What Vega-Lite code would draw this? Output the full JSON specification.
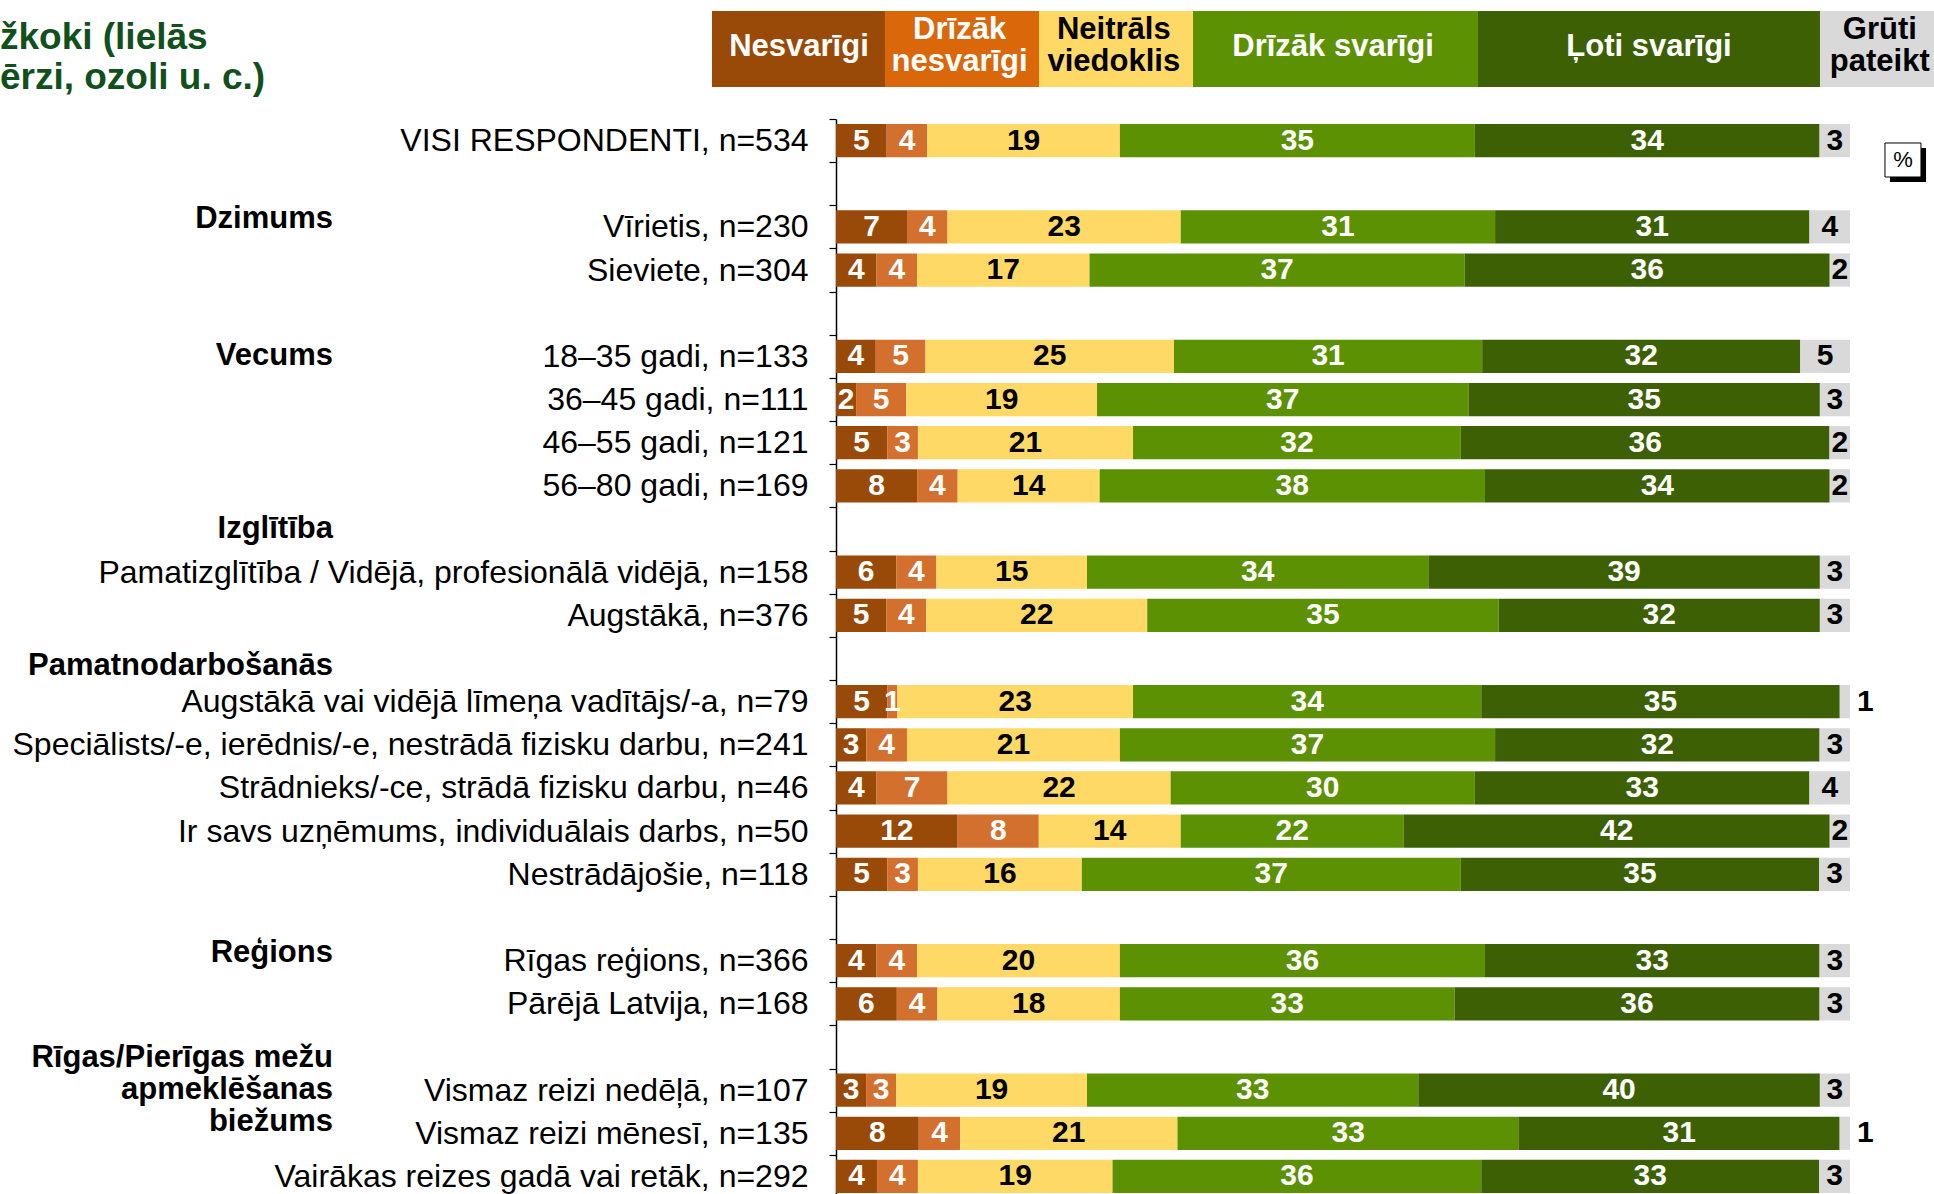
{
  "$schema": "https://vega.github.io/schema/vega-lite/v6.json",
  "width": 1014,
  "height": 1079,
  "autosize": {"type": "none"},
  "padding": {"left": 836, "top": 119, "right": 84, "bottom": 0},
  "background": "white",
  "config": {
    "view": {"stroke": null},
    "font": "Liberation Sans",
    "axis": {
      "domainColor": "black", "domainWidth": 1.5, "tickColor": "black", "tickSize": 7, "tickWidth": 1.2,
      "tickBand": "extent", "labelFont": "Liberation Sans", "labelFontSize": 32, "labelColor": "black",
      "labelPadding": 21, "labelLimit": 1200, "title": null, "grid": false
    }
  },
  "datasets": {
    "rows": [
      {"r": "VISI RESPONDENTI, n=534", "Nesvarīgi": 5, "Drīzāk nesvarīgi": 4, "Neitrāls viedoklis": 19, "Drīzāk svarīgi": 35, "Ļoti svarīgi": 34, "Grūti pateikt": 3},
      {"r": "Vīrietis, n=230", "Nesvarīgi": 7, "Drīzāk nesvarīgi": 4, "Neitrāls viedoklis": 23, "Drīzāk svarīgi": 31, "Ļoti svarīgi": 31, "Grūti pateikt": 4},
      {"r": "Sieviete, n=304", "Nesvarīgi": 4, "Drīzāk nesvarīgi": 4, "Neitrāls viedoklis": 17, "Drīzāk svarīgi": 37, "Ļoti svarīgi": 36, "Grūti pateikt": 2},
      {"r": "18–35 gadi, n=133", "Nesvarīgi": 4, "Drīzāk nesvarīgi": 5, "Neitrāls viedoklis": 25, "Drīzāk svarīgi": 31, "Ļoti svarīgi": 32, "Grūti pateikt": 5},
      {"r": "36–45 gadi, n=111", "Nesvarīgi": 2, "Drīzāk nesvarīgi": 5, "Neitrāls viedoklis": 19, "Drīzāk svarīgi": 37, "Ļoti svarīgi": 35, "Grūti pateikt": 3},
      {"r": "46–55 gadi, n=121", "Nesvarīgi": 5, "Drīzāk nesvarīgi": 3, "Neitrāls viedoklis": 21, "Drīzāk svarīgi": 32, "Ļoti svarīgi": 36, "Grūti pateikt": 2},
      {"r": "56–80 gadi, n=169", "Nesvarīgi": 8, "Drīzāk nesvarīgi": 4, "Neitrāls viedoklis": 14, "Drīzāk svarīgi": 38, "Ļoti svarīgi": 34, "Grūti pateikt": 2},
      {"r": "Pamatizglītība / Vidējā, profesionālā vidējā, n=158", "Nesvarīgi": 6, "Drīzāk nesvarīgi": 4, "Neitrāls viedoklis": 15, "Drīzāk svarīgi": 34, "Ļoti svarīgi": 39, "Grūti pateikt": 3},
      {"r": "Augstākā, n=376", "Nesvarīgi": 5, "Drīzāk nesvarīgi": 4, "Neitrāls viedoklis": 22, "Drīzāk svarīgi": 35, "Ļoti svarīgi": 32, "Grūti pateikt": 3},
      {"r": "Augstākā vai vidējā līmeņa vadītājs/-a, n=79", "Nesvarīgi": 5, "Drīzāk nesvarīgi": 1, "Neitrāls viedoklis": 23, "Drīzāk svarīgi": 34, "Ļoti svarīgi": 35, "Grūti pateikt": 1},
      {"r": "Speciālists/-e, ierēdnis/-e, nestrādā fizisku darbu, n=241", "Nesvarīgi": 3, "Drīzāk nesvarīgi": 4, "Neitrāls viedoklis": 21, "Drīzāk svarīgi": 37, "Ļoti svarīgi": 32, "Grūti pateikt": 3},
      {"r": "Strādnieks/-ce, strādā fizisku darbu, n=46", "Nesvarīgi": 4, "Drīzāk nesvarīgi": 7, "Neitrāls viedoklis": 22, "Drīzāk svarīgi": 30, "Ļoti svarīgi": 33, "Grūti pateikt": 4},
      {"r": "Ir savs uzņēmums, individuālais darbs, n=50", "Nesvarīgi": 12, "Drīzāk nesvarīgi": 8, "Neitrāls viedoklis": 14, "Drīzāk svarīgi": 22, "Ļoti svarīgi": 42, "Grūti pateikt": 2},
      {"r": "Nestrādājošie, n=118", "Nesvarīgi": 5, "Drīzāk nesvarīgi": 3, "Neitrāls viedoklis": 16, "Drīzāk svarīgi": 37, "Ļoti svarīgi": 35, "Grūti pateikt": 3},
      {"r": "Rīgas reģions, n=366", "Nesvarīgi": 4, "Drīzāk nesvarīgi": 4, "Neitrāls viedoklis": 20, "Drīzāk svarīgi": 36, "Ļoti svarīgi": 33, "Grūti pateikt": 3},
      {"r": "Pārējā Latvija, n=168", "Nesvarīgi": 6, "Drīzāk nesvarīgi": 4, "Neitrāls viedoklis": 18, "Drīzāk svarīgi": 33, "Ļoti svarīgi": 36, "Grūti pateikt": 3},
      {"r": "Vismaz reizi nedēļā, n=107", "Nesvarīgi": 3, "Drīzāk nesvarīgi": 3, "Neitrāls viedoklis": 19, "Drīzāk svarīgi": 33, "Ļoti svarīgi": 40, "Grūti pateikt": 3},
      {"r": "Vismaz reizi mēnesī, n=135", "Nesvarīgi": 8, "Drīzāk nesvarīgi": 4, "Neitrāls viedoklis": 21, "Drīzāk svarīgi": 33, "Ļoti svarīgi": 31, "Grūti pateikt": 1},
      {"r": "Vairākas reizes gadā vai retāk, n=292", "Nesvarīgi": 4, "Drīzāk nesvarīgi": 4, "Neitrāls viedoklis": 19, "Drīzāk svarīgi": 36, "Ļoti svarīgi": 33, "Grūti pateikt": 3}
    ]
  },
  "resolve": {"scale": {"y": "independent"}},
  "layer": [
    {
      "encoding": {
        "y": {
          "field": "r", "type": "nominal",
          "scale": {
            "domain": ["VISI RESPONDENTI, n=534", " ", "Vīrietis, n=230", "Sieviete, n=304", "  ", "18–35 gadi, n=133", "36–45 gadi, n=111", "46–55 gadi, n=121", "56–80 gadi, n=169", "   ", "Pamatizglītība / Vidējā, profesionālā vidējā, n=158", "Augstākā, n=376", "    ", "Augstākā vai vidējā līmeņa vadītājs/-a, n=79", "Speciālists/-e, ierēdnis/-e, nestrādā fizisku darbu, n=241", "Strādnieks/-ce, strādā fizisku darbu, n=46", "Ir savs uzņēmums, individuālais darbs, n=50", "Nestrādājošie, n=118", "     ", "Rīgas reģions, n=366", "Pārējā Latvija, n=168", "      ", "Vismaz reizi nedēļā, n=107", "Vismaz reizi mēnesī, n=135", "Vairākas reizes gadā vai retāk, n=292"],
            "paddingInner": 0, "paddingOuter": 0
          },
          "axis": {"title": null}
        }
      },
      "layer": [
        {
          "data": {"name": "rows"},
          "transform": [
            {"fold": ["Nesvarīgi", "Drīzāk nesvarīgi", "Neitrāls viedoklis", "Drīzāk svarīgi", "Ļoti svarīgi", "Grūti pateikt"], "as": ["k", "v"]},
            {"calculate": "indexof(['Nesvarīgi','Drīzāk nesvarīgi','Neitrāls viedoklis','Drīzāk svarīgi','Ļoti svarīgi','Grūti pateikt'], datum.k)", "as": "o"},
            {"stack": "v", "groupby": ["r"], "sort": [{"field": "o", "order": "ascending"}], "offset": "normalize", "as": ["x0", "x1"]},
            {"calculate": "(datum.x0 + datum.x1) / 2", "as": "xm"}
          ],
          "layer": [
            {
              "mark": {"type": "bar", "height": {"band": 0.77}},
              "encoding": {
                "x": {"field": "x0", "type": "quantitative", "scale": {"domain": [0, 1], "nice": false, "zero": false}, "axis": null},
                "x2": {"field": "x1"},
                "color": {"field": "k", "type": "nominal", "legend": null,
                  "scale": {"domain": ["Nesvarīgi", "Drīzāk nesvarīgi", "Neitrāls viedoklis", "Drīzāk svarīgi", "Ļoti svarīgi", "Grūti pateikt"],
                            "range": ["#994A09", "#D4702E", "#FFD966", "#5B9103", "#3D6004", "#D9D9D9"]}}
              }
            },
            {
              "transform": [{"filter": "!(datum.k === 'Grūti pateikt' && datum.v === 1)"}],
              "mark": {"type": "text", "fontSize": 30, "fontWeight": "bold", "align": "center", "baseline": "middle"},
              "encoding": {
                "x": {"field": "xm", "type": "quantitative", "scale": {"domain": [0, 1], "nice": false, "zero": false}, "axis": null},
                "text": {"field": "v", "type": "quantitative"},
                "color": {"condition": {"test": "datum.k === 'Neitrāls viedoklis' || datum.k === 'Grūti pateikt'", "value": "black"}, "value": "white"}
              }
            },
            {
              "transform": [{"filter": "datum.k === 'Grūti pateikt' && datum.v === 1"}],
              "mark": {"type": "text", "fontSize": 30, "fontWeight": "bold", "align": "left", "baseline": "middle", "dx": 7, "color": "black"},
              "encoding": {
                "x": {"field": "x1", "type": "quantitative", "scale": {"domain": [0, 1], "nice": false, "zero": false}, "axis": null},
                "text": {"field": "v", "type": "quantitative"}
              }
            }
          ]
        },
        {
          "data": {"values": [
            {"g": "Vecums", "r": "18–35 gadi, n=133"},
            {"g": "Izglītība", "r": "   "}
          ]},
          "mark": {"type": "text", "align": "right", "baseline": "middle", "fontSize": 31, "fontWeight": "bold", "color": "black"},
          "encoding": {
            "x": {"datum": -0.4961, "type": "quantitative", "scale": {"domain": [0, 1], "nice": false, "zero": false}, "axis": null},
            "text": {"field": "g", "type": "nominal"}
          }
        },
        {
          "data": {"values": [
            {"g": "Rīgas/Pierīgas mežu\napmeklēšanas\nbiežums", "r": "Vismaz reizi nedēļā, n=107"}
          ]},
          "mark": {"type": "text", "align": "right", "baseline": "middle", "fontSize": 31, "fontWeight": "bold", "lineBreak": "\n", "lineHeight": 32, "dy": -32, "color": "black"},
          "encoding": {
            "x": {"datum": -0.4961, "type": "quantitative", "scale": {"domain": [0, 1], "nice": false, "zero": false}, "axis": null},
            "text": {"field": "g", "type": "nominal"}
          }
        },
        {
          "data": {"values": [
            {"g": "Dzimums", "r": "Vīrietis, n=230"},
            {"g": "Reģions", "r": "Rīgas reģions, n=366"}
          ]},
          "mark": {"type": "text", "align": "right", "baseline": "middle", "fontSize": 31, "fontWeight": "bold", "dy": -8, "color": "black"},
          "encoding": {
            "x": {"datum": -0.4961, "type": "quantitative", "scale": {"domain": [0, 1], "nice": false, "zero": false}, "axis": null},
            "text": {"field": "g", "type": "nominal"}
          }
        },
        {
          "data": {"values": [
            {"g": "Pamatnodarbošanās", "r": "    "}
          ]},
          "mark": {"type": "text", "align": "right", "baseline": "middle", "fontSize": 31, "fontWeight": "bold", "dy": 7, "color": "black"},
          "encoding": {
            "x": {"datum": -0.4961, "type": "quantitative", "scale": {"domain": [0, 1], "nice": false, "zero": false}, "axis": null},
            "text": {"field": "g", "type": "nominal"}
          }
        }
      ]
    },
    {
      "data": {"values": [{}]},
      "layer": [
        {"mark": {"type": "rect", "color": "#994A09"}, "encoding": {
          "x": {"datum": -0.1223, "type": "quantitative", "scale": {"domain": [0, 1], "nice": false, "zero": false}, "axis": null}, "x2": {"datum": 0.0483},
          "y": {"datum": 1.1001, "type": "quantitative", "scale": {"domain": [0, 1], "nice": false, "zero": false}, "axis": null}, "y2": {"datum": 1.0297}}},
        {"mark": {"type": "rect", "color": "#DA670A"}, "encoding": {
          "x": {"datum": 0.0483, "type": "quantitative", "scale": {"domain": [0, 1], "nice": false, "zero": false}, "axis": null}, "x2": {"datum": 0.2002},
          "y": {"datum": 1.1001, "type": "quantitative", "scale": {"domain": [0, 1], "nice": false, "zero": false}, "axis": null}, "y2": {"datum": 1.0297}}},
        {"mark": {"type": "rect", "color": "#FFD966"}, "encoding": {
          "x": {"datum": 0.2002, "type": "quantitative", "scale": {"domain": [0, 1], "nice": false, "zero": false}, "axis": null}, "x2": {"datum": 0.3521},
          "y": {"datum": 1.1001, "type": "quantitative", "scale": {"domain": [0, 1], "nice": false, "zero": false}, "axis": null}, "y2": {"datum": 1.0297}}},
        {"mark": {"type": "rect", "color": "#5B9103"}, "encoding": {
          "x": {"datum": 0.3521, "type": "quantitative", "scale": {"domain": [0, 1], "nice": false, "zero": false}, "axis": null}, "x2": {"datum": 0.6331},
          "y": {"datum": 1.1001, "type": "quantitative", "scale": {"domain": [0, 1], "nice": false, "zero": false}, "axis": null}, "y2": {"datum": 1.0297}}},
        {"mark": {"type": "rect", "color": "#3D6004"}, "encoding": {
          "x": {"datum": 0.6331, "type": "quantitative", "scale": {"domain": [0, 1], "nice": false, "zero": false}, "axis": null}, "x2": {"datum": 0.9704},
          "y": {"datum": 1.1001, "type": "quantitative", "scale": {"domain": [0, 1], "nice": false, "zero": false}, "axis": null}, "y2": {"datum": 1.0297}}},
        {"mark": {"type": "rect", "color": "#D9D9D9"}, "encoding": {
          "x": {"datum": 0.9704, "type": "quantitative", "scale": {"domain": [0, 1], "nice": false, "zero": false}, "axis": null}, "x2": {"datum": 1.1},
          "y": {"datum": 1.1001, "type": "quantitative", "scale": {"domain": [0, 1], "nice": false, "zero": false}, "axis": null}, "y2": {"datum": 1.0297}}},
        {"mark": {"type": "text", "text": "Nesvarīgi", "fontSize": 31, "fontWeight": "bold", "color": "white", "align": "center", "baseline": "middle"}, "encoding": {
          "x": {"datum": -0.0365, "type": "quantitative", "scale": {"domain": [0, 1], "nice": false, "zero": false}, "axis": null},
          "y": {"datum": 1.0667, "type": "quantitative", "scale": {"domain": [0, 1], "nice": false, "zero": false}, "axis": null}}},
        {"mark": {"type": "text", "text": ["Drīzāk", "nesvarīgi"], "lineHeight": 32, "fontSize": 31, "fontWeight": "bold", "color": "white", "align": "center", "baseline": "middle"}, "encoding": {
          "x": {"datum": 0.1219, "type": "quantitative", "scale": {"domain": [0, 1], "nice": false, "zero": false}, "axis": null},
          "y": {"datum": 1.0825, "type": "quantitative", "scale": {"domain": [0, 1], "nice": false, "zero": false}, "axis": null}}},
        {"mark": {"type": "text", "text": ["Neitrāls", "viedoklis"], "lineHeight": 32, "fontSize": 31, "fontWeight": "bold", "color": "black", "align": "center", "baseline": "middle"}, "encoding": {
          "x": {"datum": 0.274, "type": "quantitative", "scale": {"domain": [0, 1], "nice": false, "zero": false}, "axis": null},
          "y": {"datum": 1.0825, "type": "quantitative", "scale": {"domain": [0, 1], "nice": false, "zero": false}, "axis": null}}},
        {"mark": {"type": "text", "text": "Drīzāk svarīgi", "fontSize": 31, "fontWeight": "bold", "color": "white", "align": "center", "baseline": "middle"}, "encoding": {
          "x": {"datum": 0.4902, "type": "quantitative", "scale": {"domain": [0, 1], "nice": false, "zero": false}, "axis": null},
          "y": {"datum": 1.0667, "type": "quantitative", "scale": {"domain": [0, 1], "nice": false, "zero": false}, "axis": null}}},
        {"mark": {"type": "text", "text": "Ļoti svarīgi", "fontSize": 31, "fontWeight": "bold", "color": "white", "align": "center", "baseline": "middle"}, "encoding": {
          "x": {"datum": 0.8018, "type": "quantitative", "scale": {"domain": [0, 1], "nice": false, "zero": false}, "axis": null},
          "y": {"datum": 1.0667, "type": "quantitative", "scale": {"domain": [0, 1], "nice": false, "zero": false}, "axis": null}}},
        {"mark": {"type": "text", "text": ["Grūti", "pateikt"], "lineHeight": 32, "fontSize": 31, "fontWeight": "bold", "color": "black", "align": "center", "baseline": "middle"}, "encoding": {
          "x": {"datum": 1.0294, "type": "quantitative", "scale": {"domain": [0, 1], "nice": false, "zero": false}, "axis": null},
          "y": {"datum": 1.0825, "type": "quantitative", "scale": {"domain": [0, 1], "nice": false, "zero": false}, "axis": null}}},
        {"mark": {"type": "text", "text": ["žkoki (lielās", "ērzi, ozoli u. c.)"], "lineHeight": 40, "fontSize": 37, "fontWeight": "bold", "color": "#11501C", "align": "left", "baseline": "middle"}, "encoding": {
          "x": {"datum": -0.8245, "type": "quantitative", "scale": {"domain": [0, 1], "nice": false, "zero": false}, "axis": null},
          "y": {"datum": 1.0751, "type": "quantitative", "scale": {"domain": [0, 1], "nice": false, "zero": false}, "axis": null}}},
        {"mark": {"type": "rect", "color": "black"}, "encoding": {
          "x": {"datum": 1.0394, "type": "quantitative", "scale": {"domain": [0, 1], "nice": false, "zero": false}, "axis": null}, "x2": {"datum": 1.075},
          "y": {"datum": 0.97312, "type": "quantitative", "scale": {"domain": [0, 1], "nice": false, "zero": false}, "axis": null}, "y2": {"datum": 0.94162}}},
        {"mark": {"type": "rect", "fill": "white", "stroke": "black", "strokeWidth": 1}, "encoding": {
          "x": {"datum": 1.0345, "type": "quantitative", "scale": {"domain": [0, 1], "nice": false, "zero": false}, "axis": null}, "x2": {"datum": 1.07},
          "y": {"datum": 0.97776, "type": "quantitative", "scale": {"domain": [0, 1], "nice": false, "zero": false}, "axis": null}, "y2": {"datum": 0.94625}}},
        {"mark": {"type": "text", "text": "%", "fontSize": 22, "color": "black", "align": "center", "baseline": "middle"}, "encoding": {
          "x": {"datum": 1.0523, "type": "quantitative", "scale": {"domain": [0, 1], "nice": false, "zero": false}, "axis": null},
          "y": {"datum": 0.962, "type": "quantitative", "scale": {"domain": [0, 1], "nice": false, "zero": false}, "axis": null}}}
      ]
    }
  ]
}
